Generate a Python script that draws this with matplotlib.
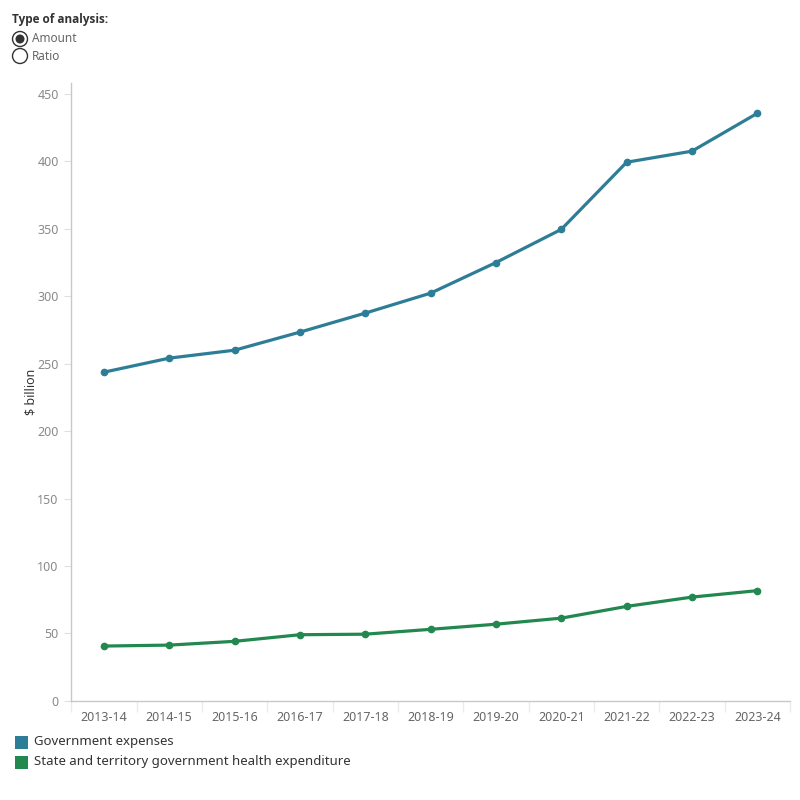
import matplotlib
matplotlib.use("Agg")
import matplotlib.pyplot as plt
from matplotlib.patches import Circle, Rectangle
from matplotlib.ticker import FixedLocator

plt.rcParams['font.family'] = ['Noto Sans', 'DejaVu Sans']

years = ["2013-14", "2014-15", "2015-16", "2016-17", "2017-18", "2018-19",
         "2019-20", "2020-21", "2021-22", "2022-23", "2023-24"]
gov_expenses = [243.7, 254.1, 260.0, 273.4, 287.5, 302.3, 325.0, 349.6, 399.4, 407.6, 435.7]
health_exp = [40.6, 41.3, 44.1, 49.0, 49.4, 53.0, 56.8, 61.3, 70.0, 76.9, 81.7]
yticks = [0, 50, 100, 150, 200, 250, 300, 350, 400, 450]

blue = "#2E7D96"
green = "#23884F"
grey_axis = "#c8c8c8"
tick_col = "#8a8a8a"

fig = plt.figure(figsize=(8, 8), dpi=100)
ax = fig.add_axes([0.089, 0.124, 0.8985, 0.772])

x = list(range(len(years)))
ax.plot(x, gov_expenses, color=blue, lw=2.3, marker='o', ms=4.5, solid_capstyle='round')
ax.plot(x, health_exp, color=green, lw=2.3, marker='o', ms=4.5, solid_capstyle='round')

ax.set_xlim(-0.5, len(years) - 0.5)
ax.set_ylim(0, 458)
ax.set_xticks(x)
ax.set_xticklabels(years)
ax.set_yticks(yticks)
ax.xaxis.set_minor_locator(FixedLocator([i - 0.5 for i in range(len(years) + 1)]))

for s in ['top', 'right']:
    ax.spines[s].set_visible(False)
for s in ['left', 'bottom']:
    ax.spines[s].set_color(grey_axis)
    ax.spines[s].set_linewidth(1)

ax.tick_params(axis='x', which='major', length=0, pad=7, labelsize=9, labelcolor="#666666")
ax.tick_params(axis='x', which='minor', length=8, color="#ebebeb", width=1)
ax.tick_params(axis='y', length=5, color="#e0e0e0", labelsize=9, labelcolor=tick_col, pad=4)

ax.set_ylabel("$ billion", fontsize=9, color="#333333")
ax.yaxis.set_label_coords(-0.047, 0.5)

# Parameter control
fig.text(12/800, 1 - 20/800, "Type of analysis:", fontsize=8.5, fontweight='bold',
         family=['Open Sans', 'DejaVu Sans'], color="#333333", va='center', ha='left')
r = 7.5/800
fig.patches.append(Circle((20/800, 1 - 39/800), r, transform=fig.transFigure,
                          facecolor='white', edgecolor='#333333', lw=1))
fig.patches.append(Circle((20/800, 1 - 39/800), r*0.6, transform=fig.transFigure,
                          facecolor='#333333', edgecolor='none'))
fig.patches.append(Circle((20/800, 1 - 56/800), r, transform=fig.transFigure,
                          facecolor='white', edgecolor='#333333', lw=1))
fig.text(32/800, 1 - 39/800, "Amount", fontsize=8.5, color="#666666", va='center', ha='left')
fig.text(32/800, 1 - 56/800, "Ratio", fontsize=8.5, color="#666666", va='center', ha='left')

# Legend
legend_items = [("Government expenses", blue), ("State and territory government health expenditure", green)]
for i, (lab, col) in enumerate(legend_items):
    yc = 742 + i * 20
    fig.patches.append(Rectangle((15/800, 1 - (yc + 7)/800), 13/800, 13/800,
                                 transform=fig.transFigure, facecolor=col, edgecolor='none'))
    fig.text(34/800, 1 - yc/800, lab, fontsize=9.5, color="#333333", va='center', ha='left')

fig.savefig("out.png", dpi=100, facecolor='white')
